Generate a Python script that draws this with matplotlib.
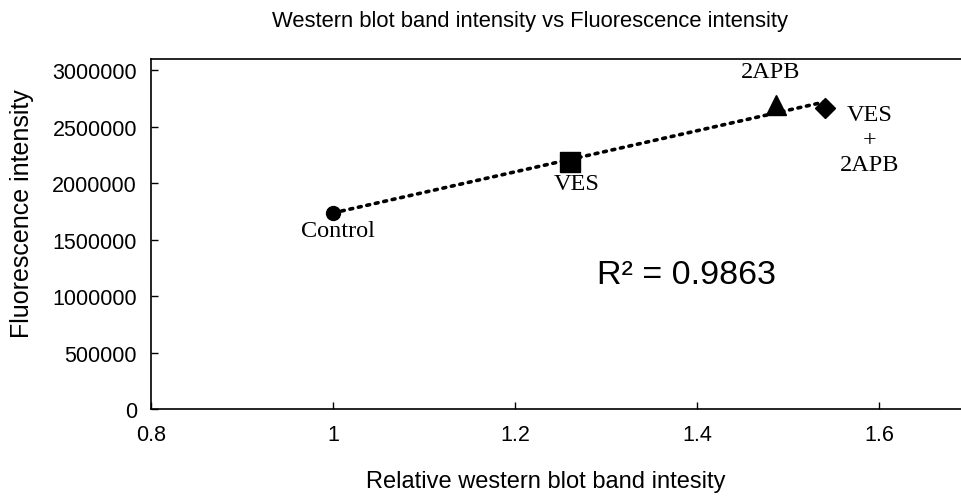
import numpy as np
from matplotlib import pyplot as plt

# data
groups = ['Control', 'VES', '2APB', 'VES\n+\n2APB']
band_intensity = [1.0, 1.26, 1.487, 1.541]
fluorescence = [1740000, 2190000, 2690000, 2670000]
markers = ['o', 's', '^', 'D']
marker_sizes = [10, 15, 15, 10]

x_ticks = [0.8, 1.0, 1.2, 1.4, 1.6]
x_tick_labels = ['0.8', '1', '1.2', '1.4', '1.6']
y_ticks = [0, 500000, 1000000, 1500000, 2000000, 2500000, 3000000]

# label offsets in pixels (dx, dy)
label_offsets = [(5, -18), (7, -22), (-6, 34), (44, -32)]

sans = ['Liberation Sans', 'DejaVu Sans']
serif = ['Liberation Serif', 'DejaVu Serif']

fig = plt.figure(figsize=(9.61, 5.02), dpi=100)
ax = fig.add_axes([151 / 961, 92 / 502, 819 / 961, 350 / 502])

# linear trendline
slope, intercept = np.polyfit(band_intensity, fluorescence, 1)
fit_x = np.array([min(band_intensity), max(band_intensity)])
ax.plot(fit_x, slope * fit_x + intercept, color='black', linestyle=(0, (0.8, 1.6)),
        linewidth=2.6, dash_capstyle='round', zorder=1)

for i in range(len(groups)):
    ax.plot(band_intensity[i], fluorescence[i], marker=markers[i], color='black',
            markersize=marker_sizes[i], linestyle='none', zorder=3)
    ax.annotate(groups[i], (band_intensity[i], fluorescence[i]),
                xytext=label_offsets[i], textcoords='offset pixels',
                ha='center', va='center', fontsize=17.5, family=serif,
                linespacing=1.25)

ax.text(1.389, 1195000, 'R² = 0.9863', fontsize=24.5, family=sans, ha='center', va='center')

ax.set_xlim(0.8, 1.7)
ax.set_ylim(0, 3100000)
ax.set_xticks(x_ticks)
ax.set_xticklabels(x_tick_labels)
ax.set_yticks(y_ticks)
ax.set_yticklabels([str(v) for v in y_ticks])
ax.tick_params(direction='in', length=5, width=1, labelsize=15.5)
ax.tick_params(axis='x', pad=11)
ax.tick_params(axis='y', pad=10)
for lbl in ax.get_xticklabels() + ax.get_yticklabels():
    lbl.set_family(sans)
for s in ax.spines.values():
    s.set_linewidth(1.2)
    s.set_color('black')

# axis titles and chart title placed in figure pixels
fig.text(546 / 961, 1 - 482 / 502, 'Relative western blot band intesity',
         fontsize=17, family=sans, ha='center', va='center')
fig.text(22 / 961, 1 - 214 / 502, 'Fluorescence intensity', fontsize=18, family=sans,
         ha='center', va='center', rotation=90)
fig.text(530 / 961, 1 - 22 / 502, 'Western blot band intensity vs Fluorescence intensity',
         fontsize=15.8, family=sans, ha='center', va='center')

plt.savefig('out.png', dpi=100)
